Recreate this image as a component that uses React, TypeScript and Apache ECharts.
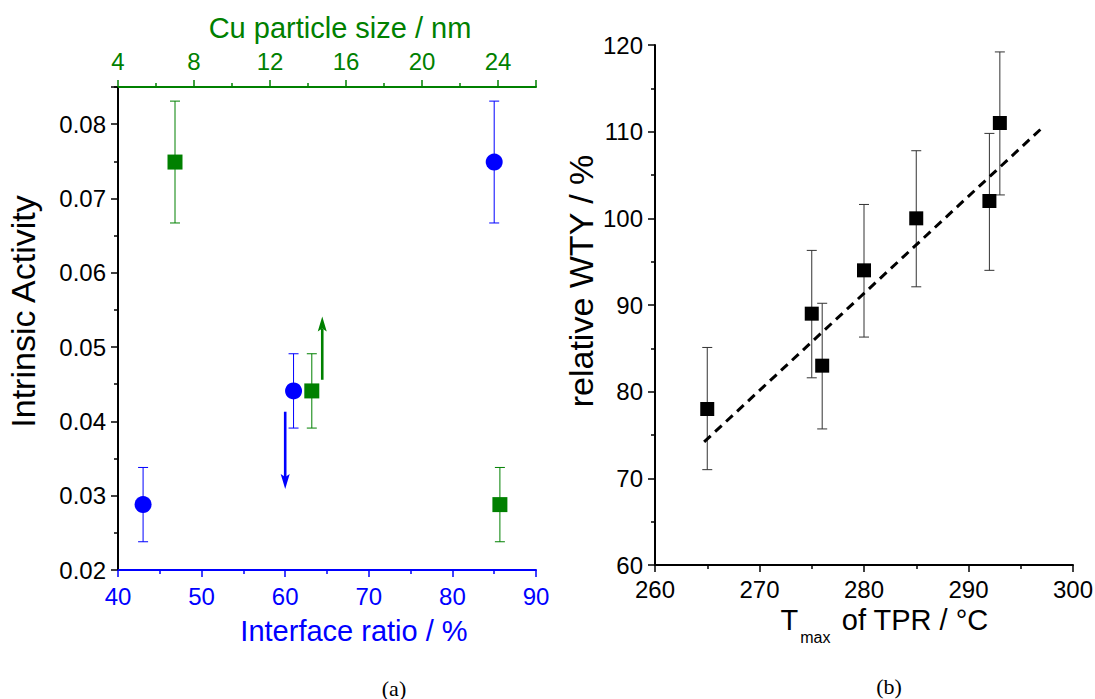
import React, { useEffect, useRef } from "react";
import * as echarts from "echarts";

// ---------- Panel (a) ----------
const interfaceRatio = [43, 61, 85]; // bottom axis (blue circles)
const activityBlue = [0.0288, 0.0441, 0.0749];
const errorBlue = [0.005, 0.005, 0.0082];
const cuSize = [7, 14.2, 24.1]; // top axis (green squares)
const activityGreen = [0.0749, 0.0441, 0.0288];
const errorGreen = [0.0082, 0.005, 0.005];
const blueArrow = [60, 0.0413, 0.0309]; // [x, from, to] on bottom axis
const greenArrow = [14.75, 0.0456, 0.0541]; // [x, from, to] on top axis

const interfaceAxis = [40, 90, 10]; // min, max, interval
const cuAxis = [4, 26, 4];
const activityAxis = [0.02, 0.085, 0.01];

// ---------- Panel (b) ----------
const tmaxTPR = [265, 275, 276, 280, 285, 292, 293];
const relWTY = [78, 89, 83, 94, 100, 102, 111];
const wtyLow = [71, 81.6, 75.7, 86.3, 92.1, 94, 102.7];
const wtyHigh = [85.1, 96.3, 90.2, 101.6, 107.8, 109.8, 119.2];
const fitX = [264.7, 297.1];
const fitY = [74.2, 110.5];

const tmaxAxis = [260, 300, 10];
const wtyAxis = [60, 120, 10];

const BLUE = "#0000ff";
const GREEN = "#008000";
const FONT = "Liberation Sans";

function errorBars(color: string, capHalf: number, lineWidth: number) {
  return (_params: any, api: any) => {
    const x = api.value(0);
    const lo = api.coord([x, api.value(1)]);
    const hi = api.coord([x, api.value(2)]);
    const style = { stroke: color, lineWidth };
    return {
      type: "group",
      children: [
        { type: "line", shape: { x1: lo[0], y1: lo[1], x2: hi[0], y2: hi[1] }, style },
        { type: "line", shape: { x1: lo[0] - capHalf, y1: lo[1], x2: lo[0] + capHalf, y2: lo[1] }, style },
        { type: "line", shape: { x1: hi[0] - capHalf, y1: hi[1], x2: hi[0] + capHalf, y2: hi[1] }, style },
      ],
    };
  };
}

function arrowItem(color: string) {
  return (_params: any, api: any) => {
    const x = api.value(0);
    const p1 = api.coord([x, api.value(1)]);
    const p2 = api.coord([x, api.value(2)]);
    const dir = p2[1] > p1[1] ? 1 : -1;
    const headLen = 15;
    const headHalf = 4.5;
    const baseY = p2[1] - dir * headLen;
    return {
      type: "group",
      children: [
        {
          type: "line",
          shape: { x1: p1[0], y1: p1[1], x2: p2[0], y2: baseY + dir * 3 },
          style: { stroke: color, lineWidth: 2.6 },
        },
        {
          type: "polygon",
          shape: {
            points: [
              [p2[0], p2[1]],
              [p2[0] - headHalf, baseY],
              [p2[0], baseY + dir * 3],
              [p2[0] + headHalf, baseY],
            ],
          },
          style: { fill: color },
        },
      ],
    };
  };
}

function valueAxis(opts: any) {
  const color = opts.color;
  return {
    type: "value",
    gridIndex: opts.gridIndex,
    position: opts.position,
    min: opts.range[0],
    max: opts.range[1],
    interval: opts.range[2],
    name: opts.name,
    nameLocation: "middle",
    nameGap: opts.nameGap,
    nameMoveOverlap: false,
    nameTextStyle: {
      color,
      fontFamily: FONT,
      fontSize: opts.nameSize,
      padding: opts.namePadding || 0,
      rich: opts.rich,
    },
    axisLine: { show: true, onZero: false, lineStyle: { color, width: 2 } },
    axisTick: { show: true, inside: false, length: 7, lineStyle: { color, width: 1.5 } },
    minorTick: { show: true, splitNumber: 2, length: 4, lineStyle: { color, width: 1.5 } },
    splitLine: { show: false },
    minorSplitLine: { show: false },
    axisLabel: {
      color,
      fontFamily: FONT,
      fontSize: 24,
      margin: opts.labelMargin,
      showMaxLabel: opts.showMaxLabel,
      formatter: opts.formatter,
    },
  };
}

export default function App() {
  const ref = useRef<HTMLDivElement>(null);

  useEffect(() => {
    if (!ref.current) return;
    const chart = echarts.init(ref.current, undefined, { renderer: "svg" });

    const blueErr = interfaceRatio.map((x, i) => [x, activityBlue[i] - errorBlue[i], activityBlue[i] + errorBlue[i]]);
    const greenErr = cuSize.map((x, i) => [x, activityGreen[i] - errorGreen[i], activityGreen[i] + errorGreen[i]]);
    const wtyErr = tmaxTPR.map((x, i) => [x, wtyLow[i], wtyHigh[i]]);

    chart.setOption({
      animation: false,
      backgroundColor: "#ffffff",
      grid: [
        { left: 118, top: 87, width: 418, height: 483, outerBoundsMode: "none", containLabel: false },
        { left: 655, top: 45, width: 418, height: 520, outerBoundsMode: "none", containLabel: false },
      ],
      xAxis: [
        valueAxis({
          gridIndex: 0,
          position: "bottom",
          range: interfaceAxis,
          color: BLUE,
          name: "Interface ratio / %",
          nameGap: 46,
          nameSize: 29,
          namePadding: [0, 0, 0, 54],
          labelMargin: 14,
        }),
        valueAxis({
          gridIndex: 0,
          position: "top",
          range: cuAxis,
          color: GREEN,
          name: "Cu particle size / nm",
          nameGap: 45,
          nameSize: 29,
          namePadding: [0, 0, 0, 26],
          labelMargin: 14,
          showMaxLabel: false,
        }),
        valueAxis({
          gridIndex: 1,
          position: "bottom",
          range: tmaxAxis,
          color: "#000000",
          name: "{t|T}{s|max}{t| of TPR / °C}",
          nameGap: 40,
          nameSize: 29,
          namePadding: [0, 0, 0, 41],
          labelMargin: 12,
          rich: {
            t: { fontSize: 29, fontFamily: FONT, color: "#000", lineHeight: 34, verticalAlign: "top" },
            s: { fontSize: 16, fontFamily: FONT, color: "#000", lineHeight: 16, verticalAlign: "top", padding: [24, 3, 0, 2] },
          },
        }),
      ],
      yAxis: [
        valueAxis({
          gridIndex: 0,
          position: "left",
          range: activityAxis,
          color: "#000000",
          name: "Intrinsic Activity",
          nameGap: 78,
          nameSize: 34,
          namePadding: [0, 0, 0, 34],
          labelMargin: 12,
          showMaxLabel: false,
          formatter: (v: number) => v.toFixed(2),
        }),
        valueAxis({
          gridIndex: 1,
          position: "left",
          range: wtyAxis,
          color: "#000000",
          name: "relative WTY / %",
          nameGap: 57,
          nameSize: 34,
          namePadding: [0, 0, 0, 48],
          labelMargin: 12,
        }),
      ],
      series: [
        {
          type: "custom",
          xAxisIndex: 0,
          yAxisIndex: 0,
          renderItem: errorBars(BLUE, 5, 1),
          data: blueErr,
          encode: { x: 0, y: [1, 2] },
          z: 2,
          silent: true,
        },
        {
          type: "custom",
          xAxisIndex: 1,
          yAxisIndex: 0,
          renderItem: errorBars(GREEN, 5, 1),
          data: greenErr,
          encode: { x: 0, y: [1, 2] },
          z: 2,
          silent: true,
        },
        {
          type: "scatter",
          xAxisIndex: 0,
          yAxisIndex: 0,
          symbol: "circle",
          symbolSize: 17,
          itemStyle: { color: BLUE, opacity: 1 },
          data: interfaceRatio.map((x, i) => [x, activityBlue[i]]),
          z: 3,
        },
        {
          type: "scatter",
          xAxisIndex: 1,
          yAxisIndex: 0,
          symbol: "rect",
          symbolSize: 15,
          itemStyle: { color: GREEN, opacity: 1 },
          data: cuSize.map((x, i) => [x, activityGreen[i]]),
          z: 3,
        },
        {
          type: "custom",
          xAxisIndex: 0,
          yAxisIndex: 0,
          renderItem: arrowItem(BLUE),
          data: [blueArrow],
          encode: { x: 0, y: [1, 2] },
          silent: true,
        },
        {
          type: "custom",
          xAxisIndex: 1,
          yAxisIndex: 0,
          renderItem: arrowItem(GREEN),
          data: [greenArrow],
          encode: { x: 0, y: [1, 2] },
          silent: true,
        },
        {
          type: "custom",
          xAxisIndex: 2,
          yAxisIndex: 1,
          renderItem: errorBars("#333333", 5, 1),
          data: wtyErr,
          encode: { x: 0, y: [1, 2] },
          z: 2,
          silent: true,
        },
        {
          type: "line",
          xAxisIndex: 2,
          yAxisIndex: 1,
          data: fitX.map((x, i) => [x, fitY[i]]),
          showSymbol: false,
          symbol: "none",
          lineStyle: { color: "#000000", width: 3, type: [9, 6] },
          z: 2,
        },
        {
          type: "scatter",
          xAxisIndex: 2,
          yAxisIndex: 1,
          symbol: "rect",
          symbolSize: 14,
          itemStyle: { color: "#000000", opacity: 1 },
          data: tmaxTPR.map((x, i) => [x, relWTY[i]]),
          z: 3,
        },
      ],
      graphic: [
        {
          type: "text",
          x: 394,
          y: 688,
          style: {
            text: "(a)",
            fontSize: 22,
            fontFamily: "Liberation Serif",
            fill: "#000",
            align: "center",
            verticalAlign: "middle",
          },
        },
        {
          type: "text",
          x: 889,
          y: 686,
          style: {
            text: "(b)",
            fontSize: 22,
            fontFamily: "Liberation Serif",
            fill: "#000",
            align: "center",
            verticalAlign: "middle",
          },
        },
      ],
    });

    return () => chart.dispose();
  }, []);

  return (
    <div
      ref={ref}
      style={{ position: "absolute", left: 0, top: 0, width: 1095, height: 699, background: "#fff" }}
    />
  );
}
